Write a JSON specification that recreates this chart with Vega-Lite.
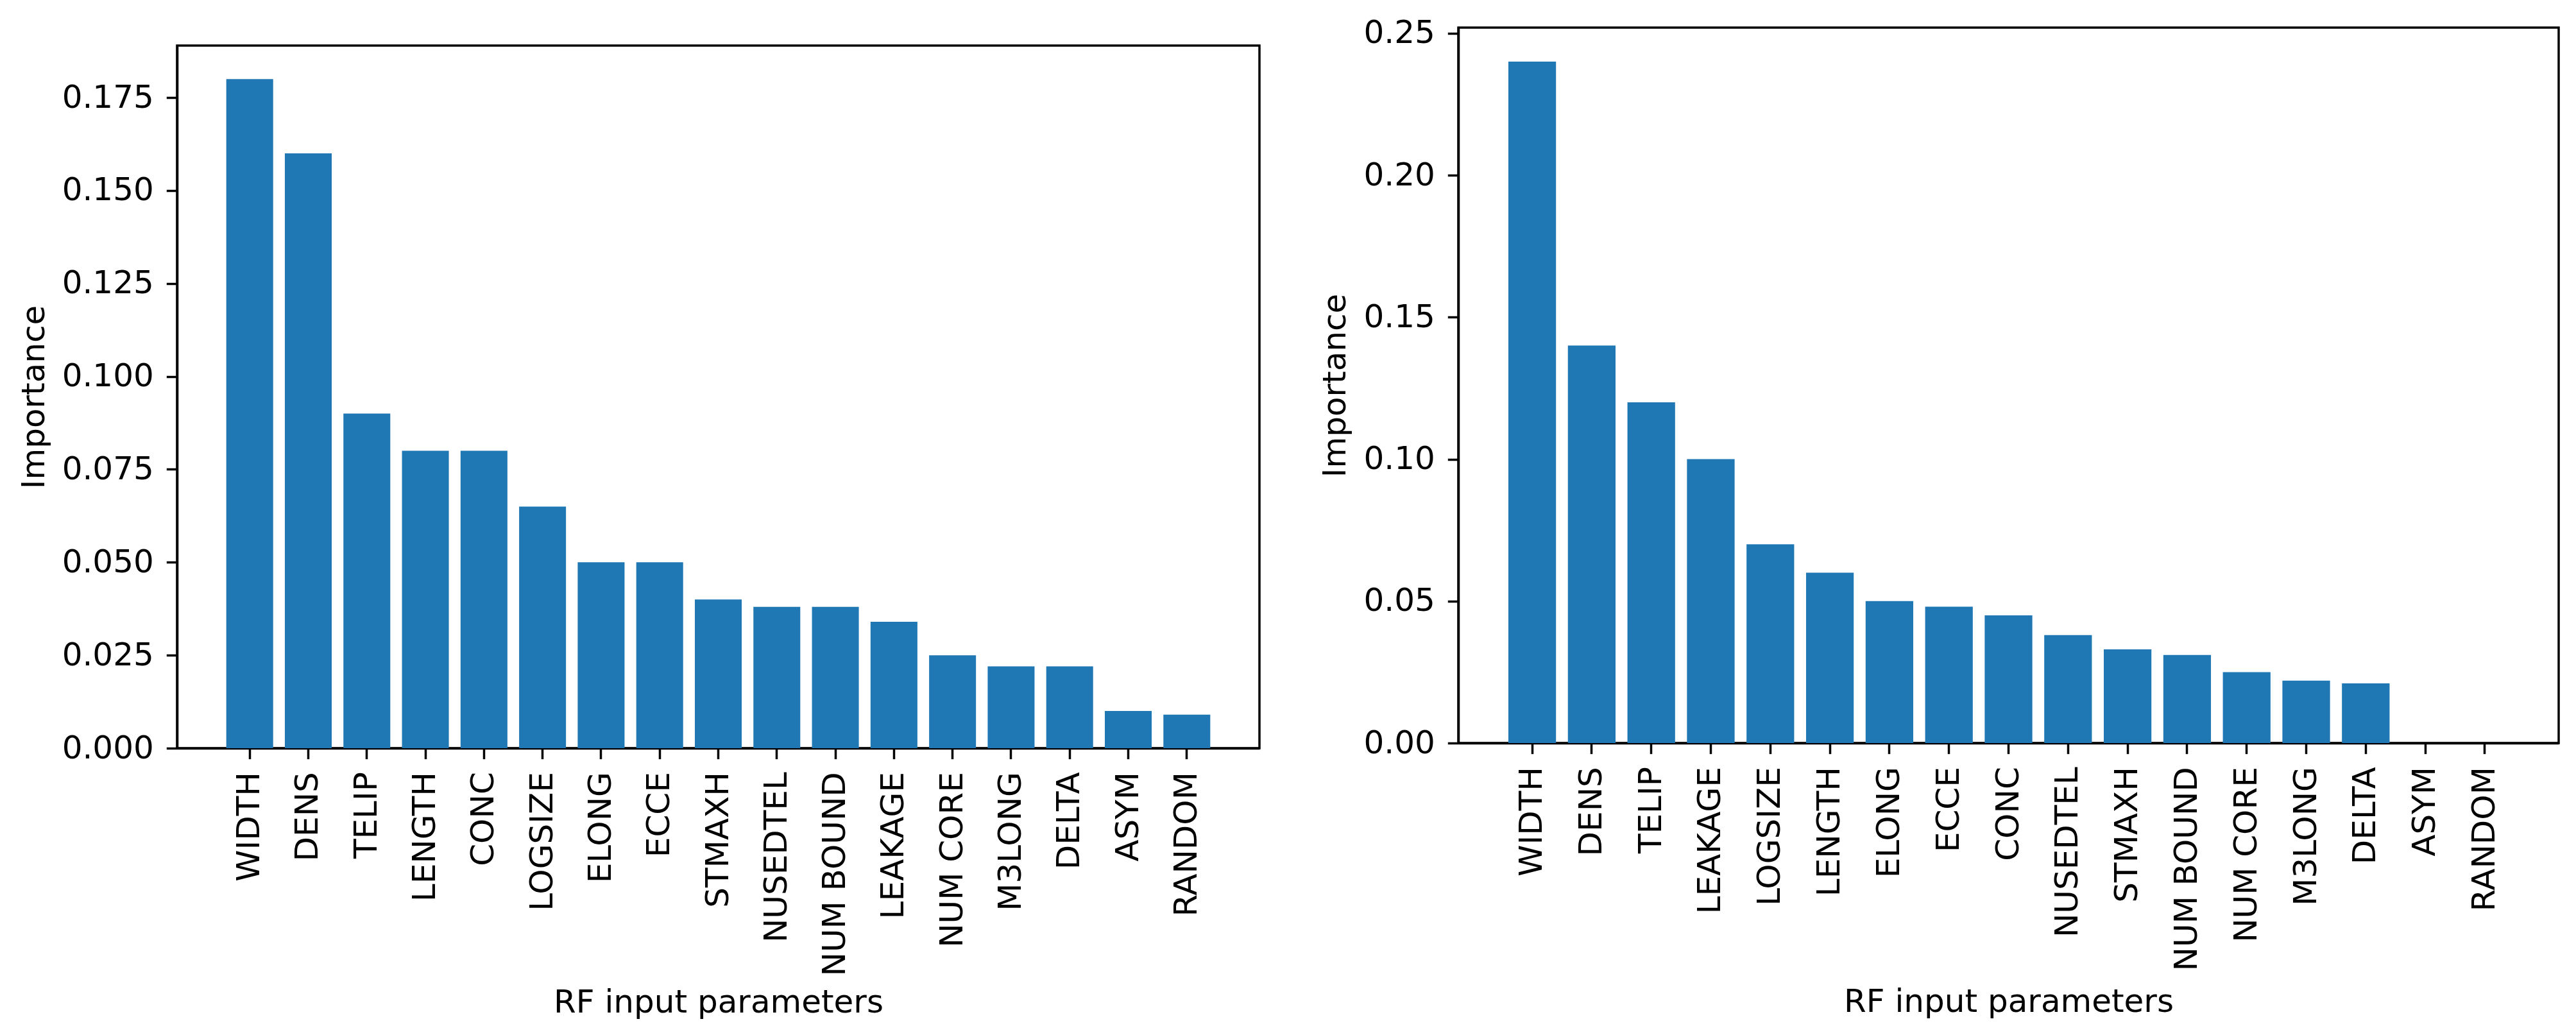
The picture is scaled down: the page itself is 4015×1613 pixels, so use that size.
{
  "$schema": "https://vega.github.io/schema/vega-lite/v6.json",
  "background": "white",
  "padding": {"left": 26, "top": 25, "right": 0, "bottom": 0},
  "spacing": 90,
  "datasets": {
    "left": [
      {"param": "WIDTH", "importance": 0.180},
      {"param": "DENS", "importance": 0.160},
      {"param": "TELIP", "importance": 0.090},
      {"param": "LENGTH", "importance": 0.080},
      {"param": "CONC", "importance": 0.080},
      {"param": "LOGSIZE", "importance": 0.065},
      {"param": "ELONG", "importance": 0.050},
      {"param": "ECCE", "importance": 0.050},
      {"param": "STMAXH", "importance": 0.040},
      {"param": "NUSEDTEL", "importance": 0.038},
      {"param": "NUM BOUND", "importance": 0.038},
      {"param": "LEAKAGE", "importance": 0.034},
      {"param": "NUM CORE", "importance": 0.025},
      {"param": "M3LONG", "importance": 0.022},
      {"param": "DELTA", "importance": 0.022},
      {"param": "ASYM", "importance": 0.010},
      {"param": "RANDOM", "importance": 0.009}
    ],
    "right": [
      {"param": "WIDTH", "importance": 0.240},
      {"param": "DENS", "importance": 0.140},
      {"param": "TELIP", "importance": 0.120},
      {"param": "LEAKAGE", "importance": 0.100},
      {"param": "LOGSIZE", "importance": 0.070},
      {"param": "LENGTH", "importance": 0.060},
      {"param": "ELONG", "importance": 0.050},
      {"param": "ECCE", "importance": 0.048},
      {"param": "CONC", "importance": 0.045},
      {"param": "NUSEDTEL", "importance": 0.038},
      {"param": "STMAXH", "importance": 0.033},
      {"param": "NUM BOUND", "importance": 0.031},
      {"param": "NUM CORE", "importance": 0.025},
      {"param": "M3LONG", "importance": 0.022},
      {"param": "DELTA", "importance": 0.021},
      {"param": "ASYM", "importance": 0.0},
      {"param": "RANDOM", "importance": 0.0}
    ]
  },
  "config": {
    "view": {"stroke": "black", "strokeWidth": 3.5},
    "axis": {
      "grid": false,
      "domainColor": "black",
      "domainWidth": 3.5,
      "tickColor": "black",
      "tickWidth": 3.5,
      "tickSize": 16.7,
      "labelFont": "DejaVu Sans",
      "labelFontSize": 50,
      "labelColor": "black",
      "labelPadding": 20,
      "labelLimit": 1000,
      "titleFont": "DejaVu Sans",
      "titleFontSize": 50,
      "titleFontWeight": "normal",
      "titleColor": "black"
    }
  },
  "hconcat": [
    {
      "spacing": 24,
      "vconcat": [
        {
          "width": 1,
          "height": 1,
          "data": {"values": []},
          "mark": "point",
          "encoding": {},
          "view": {"stroke": "white", "fill": "white"}
        },
        {
          "width": 1687,
          "height": 1095,
          "data": {"name": "left"},
          "mark": {"type": "bar", "color": "#1f77b4"},
          "encoding": {
            "x": {
              "field": "param",
              "type": "nominal",
              "sort": null,
              "scale": {"paddingInner": 0.2, "paddingOuter": 0.84},
              "axis": {"title": "RF input parameters", "labelAngle": -90, "titlePadding": 171}
            },
            "y": {
              "field": "importance",
              "type": "quantitative",
              "scale": {"domain": [0, 0.189], "nice": false, "zero": true},
              "axis": {
                "title": "Importance",
                "values": [0, 0.025, 0.05, 0.075, 0.1, 0.125, 0.15, 0.175],
                "format": ".3f",
                "titlePadding": 18
              }
            }
          }
        }
      ]
    },
    {
      "width": 1715,
      "height": 1115,
      "data": {"name": "right"},
      "mark": {"type": "bar", "color": "#1f77b4"},
      "encoding": {
        "x": {
          "field": "param",
          "type": "nominal",
          "sort": null,
          "scale": {"paddingInner": 0.2, "paddingOuter": 0.84},
          "axis": {"title": "RF input parameters", "labelAngle": -90, "titlePadding": 178}
        },
        "y": {
          "field": "importance",
          "type": "quantitative",
          "scale": {"domain": [0, 0.252], "nice": false, "zero": true},
          "axis": {
            "title": "Importance",
            "values": [0, 0.05, 0.1, 0.15, 0.2, 0.25],
            "format": ".2f",
            "titlePadding": 18
          }
        }
      }
    }
  ]
}
